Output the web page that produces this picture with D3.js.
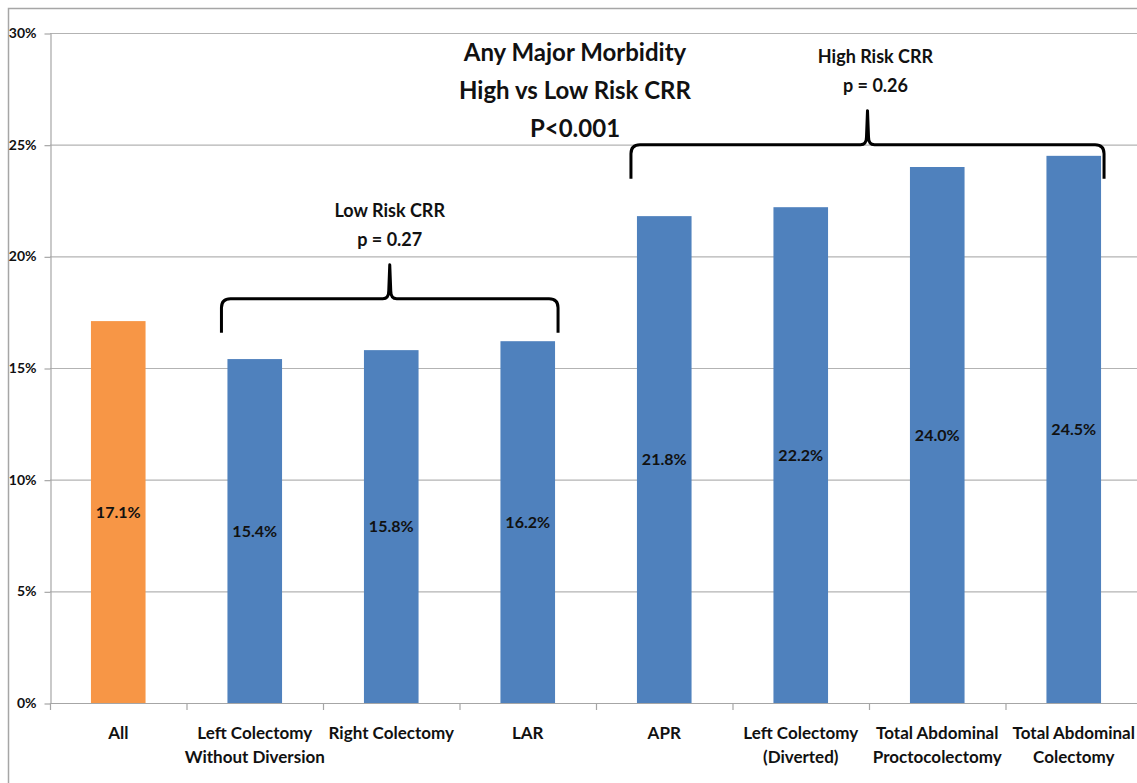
<!DOCTYPE html>
<html>
<head>
<meta charset="utf-8">
<script src="https://cdn.jsdelivr.net/npm/d3@7/dist/d3.min.js"></script>
<style>
  html, body { margin: 0; padding: 0; background: #fff; }
  svg { display: block; font-family: Lato, "Open Sans", sans-serif; }
</style>
</head>
<body>
<svg id="chart" width="1137" height="783"></svg>
<script>
// Categories (line breaks marked with "|")
const categories = [
  "All",
  "Left Colectomy|Without Diversion",
  "Right Colectomy",
  "LAR",
  "APR",
  "Left Colectomy|(Diverted)",
  "Total Abdominal|Proctocolectomy",
  "Total Abdominal|Colectomy"
];
// Any major morbidity rate, percent
const morbidity = [17.1, 15.4, 15.8, 16.2, 21.8, 22.2, 24.0, 24.5];
const yTicks = [0, 5, 10, 15, 20, 25, 30];

// Group brackets
const groupNames = ["Low Risk CRR", "High Risk CRR"];
const groupPValues = ["p = 0.27", "p = 0.26"];
const groupFirst = [1, 4];
const groupLast = [3, 7];
const groupLevel = [18.1, 25.0];

const titleLines = ["Any Major Morbidity", "High vs Low Risk CRR", "P<0.001"];

const svg = d3.select("#chart");
const W = 1137, H = 783;
const plotLeft = 50, plotRight = 1142, plotTop = 33, plotBottom = 703;

// outer frame
svg.append("rect")
  .attr("x", 8.5).attr("y", 8.5)
  .attr("width", W + 20).attr("height", H + 20)
  .attr("fill", "none").attr("stroke", "#a6a6a6").attr("stroke-width", 1.5);

const x = d3.scaleBand().domain(categories).range([plotLeft, plotRight])
  .paddingInner(0.6).paddingOuter(0.3);
const y = d3.scaleLinear().domain([0, 30]).range([plotBottom, plotTop]);

// gridlines
svg.append("g").selectAll("line").data(yTicks.filter(d => d > 0)).join("line")
  .attr("x1", plotLeft).attr("x2", plotRight)
  .attr("y1", d => y(d) + 0.5).attr("y2", d => y(d) + 0.5)
  .attr("stroke", "#b3b3b3").attr("stroke-width", 1.2);

// y axis
const yAxis = svg.append("g").attr("transform", `translate(${plotLeft + 0.5},0)`)
  .call(d3.axisLeft(y).tickValues(yTicks).tickFormat(d => d + "%").tickSize(6).tickSizeOuter(0).tickPadding(8));
yAxis.select(".domain").attr("stroke", "#a6a6a6").attr("stroke-width", 1.2);
yAxis.selectAll(".tick line").attr("stroke", "#a6a6a6").attr("stroke-width", 1.2)
  .attr("transform", "translate(0,0.5)");
yAxis.selectAll(".tick text").attr("fill", "#111").attr("font-size", 14).attr("font-weight", "bold")
  .attr("font-family", "Lato, sans-serif");

// x axis line and category boundary ticks
svg.append("line").attr("x1", plotLeft).attr("x2", plotRight)
  .attr("y1", plotBottom + 0.5).attr("y2", plotBottom + 0.5)
  .attr("stroke", "#a6a6a6").attr("stroke-width", 1.2);
const step = x.step();
const bounds = d3.range(categories.length + 1).map(i => x(categories[0]) - x.paddingOuter() * step + i * step);
svg.append("g").selectAll("line").data(bounds).join("line")
  .attr("x1", d => d + 0.5).attr("x2", d => d + 0.5)
  .attr("y1", plotBottom).attr("y2", plotBottom + 7)
  .attr("stroke", "#a6a6a6").attr("stroke-width", 1.2);

// bars
svg.append("g").selectAll("rect").data(morbidity).join("rect")
  .attr("x", (d, i) => x(categories[i]))
  .attr("width", x.bandwidth())
  .attr("y", d => y(d))
  .attr("height", d => y(0) - y(d))
  .attr("fill", (d, i) => i === 0 ? "#F79646" : "#4F81BD");

// value labels in the middle of each bar
svg.append("g").selectAll("text").data(morbidity).join("text")
  .attr("x", (d, i) => x(categories[i]) + x.bandwidth() / 2)
  .attr("y", d => (y(d) + y(0)) / 2)
  .attr("dy", "0.35em")
  .attr("text-anchor", "middle")
  .attr("font-size", 16).attr("font-weight", "bold").attr("fill", "#111")
  .text(d => d.toFixed(1) + "%");

// category labels
const catG = svg.append("g");
categories.forEach(c => {
  const lines = c.split("|");
  const t = catG.append("text")
    .attr("x", x(c) + x.bandwidth() / 2)
    .attr("text-anchor", "middle")
    .attr("font-size", 17).attr("font-weight", "bold").attr("fill", "#111");
  lines.forEach((ln, k) => {
    t.append("tspan").attr("x", x(c) + x.bandwidth() / 2).attr("y", 739 + k * 24).text(ln);
  });
});

// curly bracket path
function bracePath(x1, x2, yh, yEnd, yTip) {
  const r = 9, m = (x1 + x2) / 2, r2 = 7;
  return `M${x1},${yEnd} L${x1},${yh + r} Q${x1},${yh} ${x1 + r},${yh}` +
    ` L${m - r2},${yh} Q${m - 1},${yh} ${m - 1},${yh - 8} L${m},${yTip}` +
    ` L${m + 1},${yh - 8} Q${m + 1},${yh} ${m + r2},${yh}` +
    ` L${x2 - r},${yh} Q${x2},${yh} ${x2},${yh + r} L${x2},${yEnd}`;
}

const labelShift = [0, 8];
groupNames.forEach((name, i) => {
  const x1 = x(categories[groupFirst[i]]) - 6;
  const x2 = x(categories[groupLast[i]]) + x.bandwidth() + 3;
  const yh = y(groupLevel[i]);
  svg.append("path")
    .attr("d", bracePath(x1, x2, yh, yh + 34, yh - 34))
    .attr("fill", "none").attr("stroke", "#000").attr("stroke-width", 3)
    .attr("stroke-linejoin", "round");
  const mx = (x1 + x2) / 2 + labelShift[i];
  svg.append("text").attr("x", mx).attr("y", yh - 82)
    .attr("text-anchor", "middle").attr("font-size", 18).attr("font-weight", "bold").attr("fill", "#111")
    .text(name);
  svg.append("text").attr("x", mx).attr("y", yh - 53)
    .attr("text-anchor", "middle").attr("font-size", 18).attr("font-weight", "bold").attr("fill", "#111")
    .text(groupPValues[i]);
});

// title
svg.append("g").selectAll("text").data(titleLines).join("text")
  .attr("x", 575).attr("y", (d, i) => 61 + i * 38)
  .attr("text-anchor", "middle")
  .attr("font-size", 24).attr("font-weight", "bold").attr("fill", "#111")
  .text(d => d);
</script>
</body>
</html>
